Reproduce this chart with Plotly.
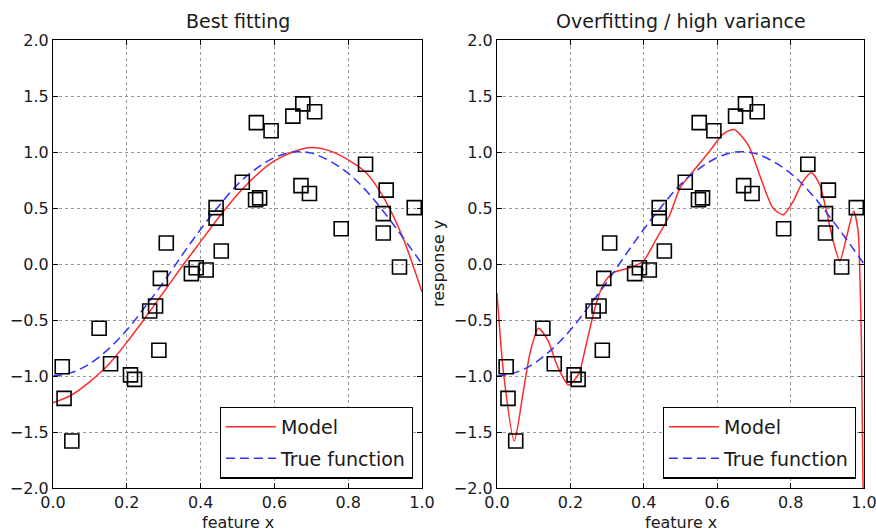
import plotly.graph_objects as go

# ---- data ----
sample_x = [0.025, 0.030, 0.051, 0.125, 0.156, 0.210, 0.221, 0.262, 0.278, 0.287,
            0.291, 0.307, 0.375, 0.388, 0.415, 0.442, 0.442, 0.456, 0.513, 0.549,
            0.551, 0.560, 0.591, 0.650, 0.672, 0.677, 0.695, 0.709, 0.781, 0.847,
            0.895, 0.895, 0.903, 0.939, 0.979]
sample_y = [-0.917, -1.20, -1.58, -0.574, -0.89, -0.99, -1.03, -0.42, -0.375, -0.77,
            -0.128, 0.187, -0.086, -0.033, -0.054, 0.503, 0.41, 0.116, 0.73, 0.574,
            1.262, 0.59, 1.19, 1.32, 0.70, 1.43, 0.63, 1.36, 0.315, 0.89,
            0.45, 0.277, 0.66, -0.027, 0.503]

true_x = [0.0, 0.05, 0.1, 0.15, 0.2, 0.25, 0.3, 0.35, 0.4, 0.45, 0.5,
          0.55, 0.6, 0.65, 0.7, 0.75, 0.8, 0.85, 0.9, 0.95, 1.0]
true_y = [-1.0, -0.97, -0.89, -0.76, -0.59, -0.38, -0.16, 0.08, 0.31, 0.52, 0.71,
          0.85, 0.95, 1.0, 0.99, 0.92, 0.81, 0.65, 0.45, 0.23, 0.0]

best_x = [0.0, 0.05, 0.1, 0.15, 0.2, 0.25, 0.3, 0.35, 0.4, 0.45, 0.5,
          0.55, 0.6, 0.65, 0.7, 0.75, 0.8, 0.85, 0.9, 0.95, 1.0]
best_y = [-1.24, -1.17, -1.05, -0.90, -0.70, -0.48, -0.25, -0.02, 0.20, 0.42, 0.62,
          0.79, 0.92, 1.00, 1.04, 1.01, 0.93, 0.81, 0.57, 0.22, -0.25]

over_x = [0.0, 0.018, 0.047, 0.072, 0.091, 0.113, 0.140, 0.163, 0.195, 0.222,
          0.245, 0.267, 0.290, 0.317, 0.363, 0.399, 0.431, 0.471, 0.499, 0.535,
          0.580, 0.616, 0.646, 0.685, 0.716, 0.752, 0.780, 0.807, 0.834, 0.857,
          0.879, 0.898, 0.916, 0.934, 0.952, 0.972, 0.984, 0.988, 0.993, 0.997, 1.0]
over_y = [-0.26, -0.98, -1.58, -1.13, -0.78, -0.574, -0.69, -0.90, -1.08, -0.985,
          -0.69, -0.39, -0.18, -0.077, -0.033, 0.027, 0.205, 0.44, 0.68, 0.83,
          1.01, 1.16, 1.20, 1.06, 0.79, 0.50, 0.44, 0.56, 0.74, 0.815,
          0.71, 0.47, 0.205, 0.027, 0.235, 0.47, 0.29, 0.0, -0.71, -1.91, -2.3]

titles = ["Best fitting", "Overfitting / high variance"]
x_ticks = [0.0, 0.2, 0.4, 0.6, 0.8, 1.0]
y_ticks = [-2.0, -1.5, -1.0, -0.5, 0.0, 0.5, 1.0, 1.5, 2.0]

FONT = "DejaVu Sans"
TXT = "#1a1a1a"

fig = go.Figure()

panels = [("x", "y", "legend", best_x, best_y), ("x2", "y2", "legend2", over_x, over_y)]
for xa, ya, lg, mx, my in panels:
    fig.add_trace(go.Scatter(x=mx, y=my, xaxis=xa, yaxis=ya, mode="lines", name="Model",
                             line=dict(color="#ff2a2a", width=1.5, shape="spline", smoothing=0.7),
                             legend=lg, legendgroup="m"))
    fig.add_trace(go.Scatter(x=true_x, y=true_y, xaxis=xa, yaxis=ya, mode="lines",
                             name="True function",
                             line=dict(color="#3030ff", width=1.5, dash="9px,5px", shape="spline"),
                             legend=lg, legendgroup="t"))
    fig.add_trace(go.Scatter(x=sample_x, y=sample_y, xaxis=xa, yaxis=ya, mode="markers",
                             name="Samples", showlegend=False,
                             marker=dict(symbol="square-open", size=14,
                                         color="black", line=dict(width=1.6, color="black"))))

axis_common = dict(range=[0, 1], showline=True, linecolor="black", linewidth=1.2, mirror="ticks",
                   ticks="inside", ticklen=5, tickcolor="black", showgrid=True,
                   gridcolor="#999999", griddash="dot", gridwidth=1, zeroline=False,
                   automargin=False, ticklabeloverflow="allow",
                   tickfont=dict(family=FONT, size=16, color=TXT))
xaxis_base = dict(axis_common, tickvals=x_ticks, tickformat=".1f")
yaxis_base = dict(axis_common, range=[-2, 2], tickvals=y_ticks, tickformat=".1f")

dom_l = [0.0, (422 - 53) / 811]
dom_r = [(497 - 53) / 811, 1.0]

legend_common = dict(yanchor="bottom", xanchor="right", y=0.021,
                     bgcolor="white", bordercolor="black", borderwidth=1.2,
                     font=dict(family=FONT, size=19, color=TXT), itemwidth=50,
                     tracegroupgap=4, traceorder="grouped")

fig.update_layout(
    width=876, height=531,
    margin=dict(l=53, r=12, t=40, b=43),
    paper_bgcolor="white", plot_bgcolor="white",
    xaxis=dict(xaxis_base, domain=dom_l, anchor="y"),
    yaxis=dict(yaxis_base, anchor="x"),
    xaxis2=dict(xaxis_base, domain=dom_r, anchor="y2"),
    yaxis2=dict(yaxis_base, anchor="x2"),
    legend=dict(legend_common, x=(412.7 - 53) / 811),
    legend2=dict(legend_common, x=(855.7 - 53) / 811),
    annotations=[
        dict(text=titles[0], x=sum(dom_l) / 2, y=1.0, xref="paper", yref="paper",
             xanchor="center", yanchor="bottom", yshift=6, showarrow=False,
             font=dict(family=FONT, size=19, color=TXT)),
        dict(text=titles[1], x=sum(dom_r) / 2, y=1.0, xref="paper", yref="paper",
             xanchor="center", yanchor="bottom", yshift=6, showarrow=False,
             font=dict(family=FONT, size=19, color=TXT)),
        dict(text="feature x", x=sum(dom_l) / 2, y=0, xref="paper", yref="paper",
             xanchor="center", yanchor="middle", yshift=-34, showarrow=False,
             font=dict(family=FONT, size=16, color=TXT)),
        dict(text="feature x", x=sum(dom_r) / 2, y=0, xref="paper", yref="paper",
             xanchor="center", yanchor="middle", yshift=-34, showarrow=False,
             font=dict(family=FONT, size=16, color=TXT)),
        dict(text="response y", x=dom_r[0], y=0.5, xref="paper", yref="paper",
             xanchor="center", yanchor="middle", xshift=-59, textangle=-90, showarrow=False,
             font=dict(family=FONT, size=16, color=TXT)),
    ],
)

fig.write_html("out.html", config={"displayModeBar": False},
               post_script="document.body.style.margin='0';document.body.style.overflow='hidden';")
